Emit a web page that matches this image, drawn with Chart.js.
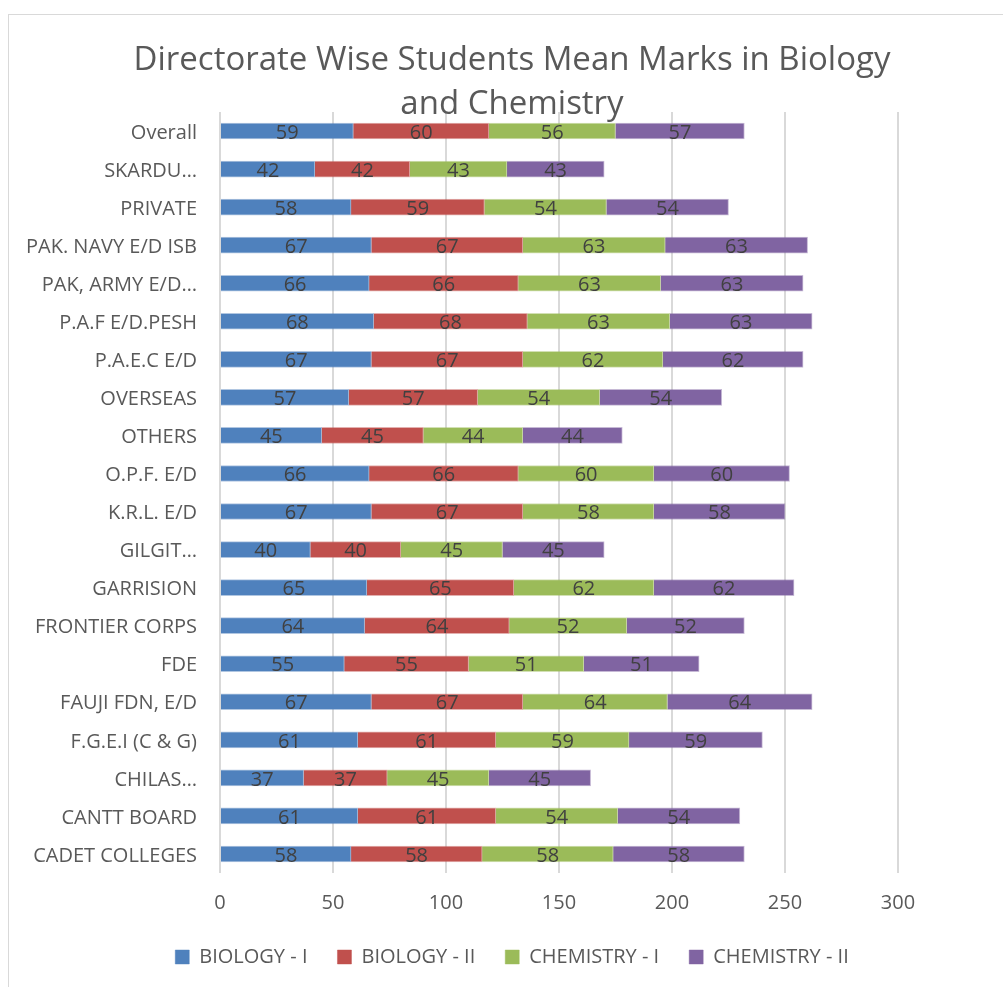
<!DOCTYPE html>
<html>
<head>
<meta charset="utf-8">
<script src="https://cdn.jsdelivr.net/npm/chart.js@4/dist/chart.umd.min.js"></script>
<style>
  html, body { margin: 0; padding: 0; background: #ffffff; }
  #wrap { width: 1003px; height: 987px; }
</style>
</head>
<body>
<div id="wrap"><canvas id="c" width="1003" height="987"></canvas></div>
<script>
const categories = [
  'Overall', 'SKARDU…', 'PRIVATE', 'PAK. NAVY E/D ISB', 'PAK, ARMY E/D…',
  'P.A.F E/D.PESH', 'P.A.E.C E/D', 'OVERSEAS', 'OTHERS', 'O.P.F. E/D',
  'K.R.L. E/D', 'GILGIT…', 'GARRISION', 'FRONTIER CORPS', 'FDE',
  'FAUJI FDN, E/D', 'F.G.E.I (C & G)', 'CHILAS…', 'CANTT BOARD', 'CADET COLLEGES'
];
const biology1   = [59, 42, 58, 67, 66, 68, 67, 57, 45, 66, 67, 40, 65, 64, 55, 67, 61, 37, 61, 58];
const biology2   = [60, 42, 59, 67, 66, 68, 67, 57, 45, 66, 67, 40, 65, 64, 55, 67, 61, 37, 61, 58];
const chemistry1 = [56, 43, 54, 63, 63, 63, 62, 54, 44, 60, 58, 45, 62, 52, 51, 64, 59, 45, 54, 58];
const chemistry2 = [57, 43, 54, 63, 63, 63, 62, 54, 44, 60, 58, 45, 62, 52, 51, 64, 59, 45, 54, 58];
const seriesNames = ['BIOLOGY - I', 'BIOLOGY - II', 'CHEMISTRY - I', 'CHEMISTRY - II'];
const xTicks = [0, 50, 100, 150, 200, 250, 300];
const titleLines = ['Directorate Wise Students Mean Marks in Biology', 'and Chemistry'];

const FONT = "'Open Sans', 'DejaVu Sans', sans-serif";
const colors = ['#4F81BD', '#C0504D', '#9BBB59', '#8064A2'];
const borders = ['rgba(79,129,189,0.45)', 'rgba(192,80,77,0.45)', 'rgba(155,187,89,0.45)', 'rgba(128,100,162,0.45)'];

const frame = {
  id: 'frame',
  beforeDraw(chart) {
    const ctx = chart.ctx;
    ctx.save();
    ctx.fillStyle = '#ffffff';
    ctx.fillRect(0, 0, chart.width, chart.height);
    ctx.strokeStyle = '#D9D9D9';
    ctx.lineWidth = 1;
    ctx.strokeRect(8.5, 14.5, chart.width + 10, chart.height + 10);
    ctx.restore();
  }
};

const valueLabels = {
  id: 'valueLabels',
  afterDatasetsDraw(chart) {
    const ctx = chart.ctx;
    ctx.save();
    ctx.font = '20px ' + FONT;
    ctx.fillStyle = '#404040';
    ctx.textAlign = 'center';
    ctx.textBaseline = 'middle';
    chart.data.datasets.forEach((ds, i) => {
      const meta = chart.getDatasetMeta(i);
      meta.data.forEach((el, j) => {
        const p = el.getCenterPoint();
        ctx.fillText(String(ds.data[j]), p.x, p.y + 2);
      });
    });
    ctx.restore();
  }
};

const seriesData = [biology1, biology2, chemistry1, chemistry2];

new Chart(document.getElementById('c'), {
  type: 'bar',
  data: {
    labels: categories,
    datasets: seriesData.map((d, i) => ({
      label: seriesNames[i],
      data: d,
      backgroundColor: colors[i],
      borderColor: borders[i],
      borderWidth: 1,
      barThickness: 16
    }))
  },
  options: {
    indexAxis: 'y',
    responsive: false,
    animation: false,
    layout: { padding: { left: 126, right: 105, top: 20, bottom: 10 } },
    scales: {
      x: {
        stacked: true,
        min: 0,
        max: 300,
        afterBuildTicks(scale) { scale.ticks = xTicks.map(v => ({ value: v })); },
        afterFit(scale) { scale.height = 44; },
        grid: { color: '#D9D9D9', lineWidth: 2, drawTicks: false },
        border: { display: false },
        ticks: { color: '#595959', font: { family: FONT, size: 20 }, padding: 18 }
      },
      y: {
        stacked: true,
        grid: { display: false, drawTicks: false },
        border: { display: false },
        afterFit(scale) {
          scale.width = 94;
          scale._computeLabelArea = function () { return undefined; };
        },
        ticks: { color: '#595959', font: { family: FONT, size: 20 }, padding: 23, autoSkip: false, labelOffset: 2 }
      }
    },
    plugins: {
      title: {
        display: true,
        text: titleLines,
        color: '#595959',
        font: { family: FONT, size: 33, weight: 'normal', lineHeight: 1.3334 },
        padding: { top: 19, bottom: -15 }
      },
      legend: {
        position: 'bottom',
        labels: {
          color: '#595959',
          font: { family: FONT, size: 20 },
          boxWidth: 14,
          boxHeight: 14,
          padding: 30
        }
      },
      tooltip: { enabled: false }
    }
  },
  plugins: [frame, valueLabels]
});
</script>
</body>
</html>
